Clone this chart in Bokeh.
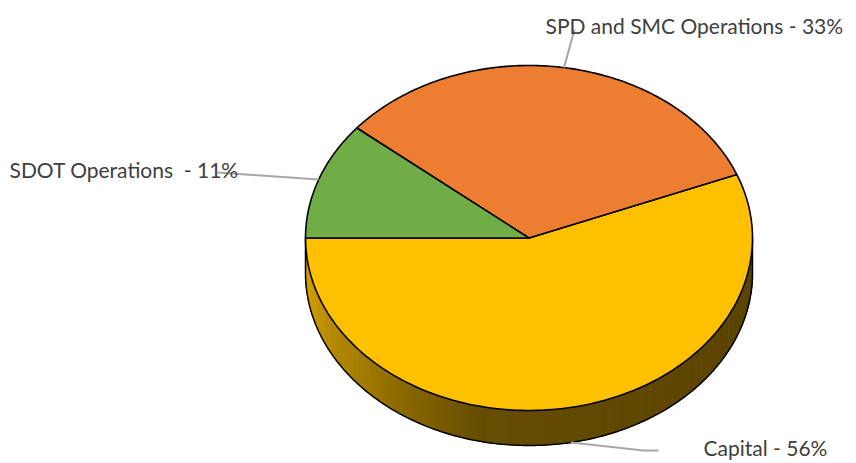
import numpy as np
from bokeh.plotting import figure
from bokeh.models import Range1d, ColumnDataSource
from bokeh.embed import file_html
from bokeh.resources import INLINE
from bokeh.core.properties import value

# ---- data ----
categories = ["Capital", "SPD and SMC Operations", "SDOT Operations"]
shares = [56, 33, 11]
label_texts = ["Capital - 56%", "SPD and SMC Operations - 33%", "SDOT Operations \u00a0- 11%"]
colors = ["#FFC000", "#ED7D31", "#70AD47"]

# ---- layout (pixel space, y downward) ----
W, H = 856, 463
cx, cy, rx, ry, depth = 528.5, 237.5, 223.5, 172.5, 35.0
start_deg = 180.0  # slices go counter-clockwise from the left

# label anchor/end layout
label_pos = [(703, 447), (545, 25), (9, 169)]
leader_ends = [[(643, 450), (658, 450)], [(574, 29)], [(217, 172)]]

p = figure(width=W, height=H, output_backend="svg", toolbar_location=None,
           x_range=Range1d(0, W), y_range=Range1d(H, 0), min_border=0,
           x_axis_location=None, y_axis_location=None)
p.grid.visible = False
p.outline_line_color = None
p.background_fill_color = "white"
p.border_fill_color = "white"


def pt(t, dy=0.0):
    r = np.radians(t)
    return cx + rx * np.cos(r), cy - ry * np.sin(r) + dy


total = float(sum(shares))
bounds = [start_deg]
for v in shares:
    bounds.append(bounds[-1] + v / total * 360.0)


def hex_to_rgb(h):
    h = h.lstrip("#")
    return tuple(int(h[i:i + 2], 16) for i in (0, 2, 4))


def shade(hexcol, f):
    r, g, b = hex_to_rgb(hexcol)
    return "#%02x%02x%02x" % (int(r * f), int(g * f), int(b * f))


# shading factor along x
sx = [305, 330, 400, 480, 752]
sf = [0.83, 0.72, 0.55, 0.40, 0.36]


def slice_at(t):
    tt = t
    while tt < start_deg:
        tt += 360
    while tt >= start_deg + 360:
        tt -= 360
    for i in range(len(shares)):
        if bounds[i] <= tt < bounds[i + 1]:
            return i
    return len(shares) - 1


# ---- side (visible front half: 180..360) ----
N = 180
ts = np.linspace(180, 360, N + 1)
xs_side, ys_side, cols_side = [], [], []
for i in range(N):
    a, b = ts[i], ts[i + 1]
    x1, y1 = pt(a)
    x2, y2 = pt(b)
    x3, y3 = pt(b, depth)
    x4, y4 = pt(a, depth)
    xs_side.append([x1, x2, x3, x4])
    ys_side.append([y1, y2, y3, y4])
    xm = (x1 + x2) / 2
    f = float(np.interp(xm, sx, sf))
    cols_side.append(shade(colors[slice_at((a + b) / 2)], f))
p.patches(xs_side, ys_side, fill_color=cols_side, line_color=cols_side, line_width=1)

# side silhouette
tb = np.linspace(180, 360, 200)
sil_x = [pt(180)[0]] + [pt(t, depth)[0] for t in tb] + [pt(360)[0]]
sil_y = [pt(180)[1]] + [pt(t, depth)[1] for t in tb] + [pt(360)[1]]
p.line(sil_x, sil_y, line_color="black", line_width=1.5)

# ---- top face wedges ----
wx, wy = [], []
for i in range(len(shares)):
    tt = np.linspace(bounds[i], bounds[i + 1], 150)
    xs = [cx] + [pt(t)[0] for t in tt]
    ys = [cy] + [pt(t)[1] for t in tt]
    wx.append(xs)
    wy.append(ys)
p.patches(wx, wy, fill_color=colors, line_color="black", line_width=1.6, line_join="round")

# ---- leader lines ----
lx, ly = [], []
for i in range(len(shares)):
    mid = (bounds[i] + bounds[i + 1]) / 2
    s = np.sin(np.radians(mid))
    ax, ay = pt(mid, depth if s < 0 else 0.0)
    xs = [ax] + [e[0] for e in leader_ends[i]]
    ys = [ay] + [e[1] for e in leader_ends[i]]
    lx.append(xs)
    ly.append(ys)
p.multi_line(lx, ly, line_color="#A6A6A6", line_width=2)

# ---- labels ----
src = ColumnDataSource(dict(x=[q[0] for q in label_pos], y=[q[1] for q in label_pos], t=label_texts))
p.text(x="x", y="y", text="t", source=src, text_font=value("Lato"), text_font_size="21px",
       text_color="#404040", text_baseline="alphabetic", text_align="left")

open("out.html", "w").write(file_html(p, INLINE))
